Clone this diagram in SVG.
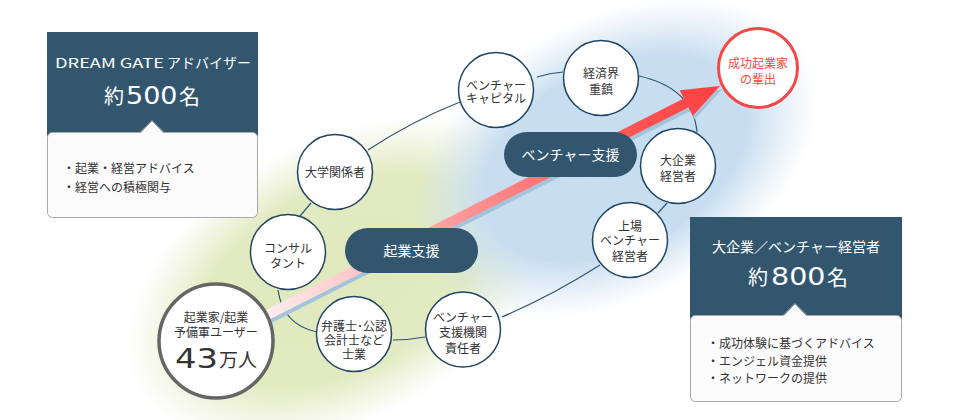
<svg xmlns="http://www.w3.org/2000/svg" width="960" height="420" viewBox="0 0 960 420">
<defs>
  <radialGradient id="gGreen" cx="50%" cy="50%" r="50%">
    <stop offset="0" stop-color="#e0e9bd" stop-opacity="1"/>
    <stop offset="0.65" stop-color="#e2eac1" stop-opacity="1"/>
    <stop offset="1" stop-color="#e6edca" stop-opacity="0"/>
  </radialGradient>
  <radialGradient id="gBlue" cx="50%" cy="50%" r="50%">
    <stop offset="0" stop-color="#c6ddf0" stop-opacity="1"/>
    <stop offset="0.65" stop-color="#c8def0" stop-opacity="1"/>
    <stop offset="1" stop-color="#d2e4f3" stop-opacity="0"/>
  </radialGradient>
  <linearGradient id="gArrow" gradientUnits="userSpaceOnUse" x1="240" y1="329" x2="720" y2="86">
    <stop offset="0" stop-color="#ffffff"/>
    <stop offset="0.07" stop-color="#fdeaea"/>
    <stop offset="0.25" stop-color="#fcc6c6"/>
    <stop offset="0.5" stop-color="#fe8e8e"/>
    <stop offset="0.75" stop-color="#ff5c5c"/>
    <stop offset="1" stop-color="#ff4040"/>
  </linearGradient>
</defs>
<style>
  .ja{font-family:"Noto Sans CJK JP","Noto Sans",sans-serif}
  .num{font-family:"DejaVu Sans","Noto Sans",sans-serif}
  .node{fill:#fff;stroke:#1f4563;stroke-width:1.5}
  .nt{font-size:12px;fill:#333;text-anchor:middle}
  .ring{fill:none;stroke:#2f5573;stroke-width:1.2}
  .hdr{fill:#33566f}
  .card{fill:#fbfbfb;stroke:#a8a8a8;stroke-width:1}
  .notch{fill:#fbfbfb}
  .notchline{fill:none;stroke:#a8a8a8;stroke-width:1}
  .wt{fill:#fff}
  .bl{font-size:12px;fill:#333}
  .pill{fill:#33566f}
  .pt{font-size:14px;fill:#fff;text-anchor:middle}
  .red{fill:#f44848}
</style>
<rect width="960" height="420" fill="#fff"/>

<g id="background">
  <ellipse cx="340" cy="280" rx="230" ry="140" transform="rotate(-28 340 280)" fill="url(#gGreen)"/>
  <ellipse cx="615" cy="158" rx="218" ry="140" transform="rotate(-28 615 158)" fill="url(#gBlue)"/>
</g>

<g id="connectors">
  <path class="ring" d="M368,150 Q412,121 460,102"/>
  <path class="ring" d="M537,77 Q550,73 563,72"/>
  <path class="ring" d="M639,76 Q693,88 697,132"/>
  <path class="ring" d="M667,203 L658,213"/>
  <path class="ring" d="M600,265 Q553,295 502,317"/>
  <path class="ring" d="M425,337 Q409,340 393,340"/>
  <path class="ring" d="M317,332 Q283,325 278,290"/>
  <path class="ring" d="M300,216 L311,203"/>
</g>

<g id="arrow">
  <polygon transform="translate(2,3.5)" fill="#a4c4dc" points="237.7,324.2 683.8,98.6 679.6,90.2 720,86 692.6,116 688.4,107.6 242.3,333.2"/>
  <polygon fill="url(#gArrow)" points="237.7,324.2 683.8,98.6 679.6,90.2 720,86 692.6,116 688.4,107.6 242.3,333.2"/>
</g>

<g id="pill-kigyo">
  <rect class="pill" x="345" y="228" width="133" height="45" rx="22.5"/>
  <text class="ja pt" x="411.5" y="256">起業支援</text>
</g>
<g id="pill-venture">
  <rect class="pill" x="504" y="132" width="133" height="45" rx="22.5"/>
  <text class="ja pt" x="570.5" y="160">ベンチャー支援</text>
</g>

<g id="node-users">
  <circle cx="216" cy="341" r="57" fill="#fff" stroke="#666" stroke-width="3.5"/>
  <text class="ja nt" x="216" y="321.5">起業家/起業</text>
  <text class="ja nt" x="216" y="336.5">予備軍ユーザー</text>
  <text class="num" transform="translate(175,367.5) scale(1.25,1)" font-size="27" fill="#333">43</text>
  <text class="ja" x="219" y="367" font-size="19" fill="#333">万人</text>
</g>
<g id="node-consultant">
  <circle class="node" cx="288" cy="252" r="37.5"/>
  <text class="ja nt" x="288" y="252.5">コンサル</text>
  <text class="ja nt" x="288" y="267.5">タント</text>
</g>
<g id="node-lawyer">
  <circle class="node" cx="354" cy="334" r="37.5"/>
  <text class="ja nt" x="354" y="330.5">弁護士･公認</text>
  <text class="ja nt" x="354" y="344.5">会計士など</text>
  <text class="ja nt" x="354" y="358.5">士業</text>
</g>
<g id="node-support">
  <circle class="node" cx="463" cy="329.5" r="37.5"/>
  <text class="ja nt" x="463" y="321.5">ベンチャー</text>
  <text class="ja nt" x="463" y="336.5">支援機関</text>
  <text class="ja nt" x="463" y="352.5">責任者</text>
</g>
<g id="node-univ">
  <circle class="node" cx="335" cy="172" r="37.5"/>
  <text class="ja nt" x="335" y="177">大学関係者</text>
</g>
<g id="node-vc">
  <circle class="node" cx="496" cy="90" r="37.5"/>
  <text class="ja nt" x="496" y="90">ベンチャー</text>
  <text class="ja nt" x="496" y="103">キャピタル</text>
</g>
<g id="node-business">
  <circle class="node" cx="601" cy="78" r="37.5"/>
  <text class="ja nt" x="601" y="77.5">経済界</text>
  <text class="ja nt" x="601" y="93.5">重鎮</text>
</g>
<g id="node-corp">
  <circle class="node" cx="678" cy="166" r="37.5"/>
  <text class="ja nt" x="678" y="165">大企業</text>
  <text class="ja nt" x="678" y="181">経営者</text>
</g>
<g id="node-listed">
  <circle class="node" cx="630" cy="240" r="37.5"/>
  <text class="ja nt" x="630" y="230.5">上場</text>
  <text class="ja nt" x="630" y="244.5">ベンチャー</text>
  <text class="ja nt" x="630" y="260.5">経営者</text>
</g>
<g id="node-success">
  <circle cx="758" cy="68" r="39.5" fill="#fff" stroke="#f44848" stroke-width="3"/>
  <text class="ja nt red" x="758" y="67.5">成功起業家</text>
  <text class="ja nt red" x="758" y="83.5">の輩出</text>
</g>

<g id="box-advisor">
  <rect class="hdr" x="47" y="32" width="211" height="104"/>
  <text class="ja wt" x="55" y="68" font-size="13" textLength="109" lengthAdjust="spacingAndGlyphs">DREAM GATE</text>
  <text class="ja wt" x="167" y="68" font-size="14">アドバイザー</text>
  <text class="ja wt" x="104" y="104" font-size="20">約</text>
  <text class="num wt" transform="translate(126,104) scale(1.08,1)" font-size="25">500</text>
  <text class="ja wt" x="179" y="104" font-size="21">名</text>
  <rect class="card" x="47.5" y="132.5" width="210" height="85" rx="5"/>
  <polygon class="notch" points="140,133.5 152,121 164,133.5"/>
  <path class="notchline" d="M140,132.5 L152,120.5 L164,132.5"/>
  <text class="ja bl" x="63" y="172.5">・起業・経営アドバイス</text>
  <text class="ja bl" x="63" y="191.5">・経営への積極関与</text>
</g>

<g id="box-executives">
  <rect class="hdr" x="690" y="217" width="212" height="103"/>
  <text class="ja wt" x="796" y="252" font-size="14" text-anchor="middle">大企業／ベンチャー経営者</text>
  <text class="ja wt" x="748" y="285" font-size="20">約</text>
  <text class="num wt" transform="translate(771,285) scale(1.14,1)" font-size="25">800</text>
  <text class="ja wt" x="827" y="285" font-size="21">名</text>
  <rect class="card" x="690.5" y="315.5" width="211" height="86" rx="5"/>
  <polygon class="notch" points="783,316.5 795,304 807,316.5"/>
  <path class="notchline" d="M783,315.5 L795,303.5 L807,315.5"/>
  <text class="ja bl" x="707" y="347.5">・成功体験に基づくアドバイス</text>
  <text class="ja bl" x="707" y="365.5">・エンジェル資金提供</text>
  <text class="ja bl" x="707" y="382.5">・ネットワークの提供</text>
</g>
</svg>
